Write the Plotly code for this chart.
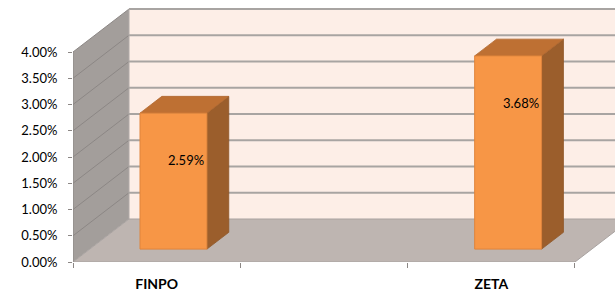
import plotly.graph_objects as go

# ---- data ----
categories = ["FINPO", "", "ZETA"]
values = [2.59, None, 3.68]
y_ticks = [0, 0.5, 1, 1.5, 2, 2.5, 3, 3.5, 4]
y_ticklabels = [f"{v:.2f}%" for v in y_ticks]

# ---- 3D-look geometry (in data units) ----
DX = 0.3347      # depth shift along x (category units)
DY = 0.819       # depth shift along y (percent units)
BAR_F0 = 0.30    # bar front face depth fraction
BAR_D = 0.39     # bar depth fraction
BAR_W = 0.40     # bar width (category units)
NCAT = len(categories)
YMAX = 4

FONT = "Lato"
traces = []

def poly(xs, ys, fill, line_color=None, line_width=0):
    traces.append(go.Scatter(
        x=list(xs) + [xs[0]], y=list(ys) + [ys[0]], mode="lines", fill="toself",
        fillcolor=fill, line=dict(color=line_color or fill, width=line_width),
        hoverinfo="skip", showlegend=False))

def seg(x0, y0, x1, y1, color, width=1):
    traces.append(go.Scatter(
        x=[x0, x1], y=[y0, y1], mode="lines", line=dict(color=color, width=width),
        hoverinfo="skip", showlegend=False))

# back wall
poly([DX, NCAT + 1, NCAT + 1, DX], [DY, DY, YMAX + DY, YMAX + DY], "#FDEEE7")
for v in y_ticks[1:]:
    seg(DX, v + DY, NCAT + 1, v + DY, "#A8A4A2", 1.8)
# side wall
poly([0, DX, DX, 0], [0, DY, YMAX + DY, YMAX], "#A39E9B")
for v in y_ticks[1:]:
    seg(0, v, DX, v + DY, "#8C8785", 1)
seg(DX, DY, DX, YMAX + DY, "#B0ABA8", 1)
# floor
poly([0, NCAT, NCAT + DX, DX], [0, 0, DY, DY], "#BEB5B1", "#A8A2A0", 1)

# bars
for i, v in enumerate(values):
    if v is None:
        continue
    c = i + 0.5
    x0 = c - BAR_W / 2 + BAR_F0 * DX
    x1 = c + BAR_W / 2 + BAR_F0 * DX
    yb = BAR_F0 * DY
    yt = v + BAR_F0 * DY
    ddx = BAR_D * DX
    ddy = BAR_D * DY
    # side
    poly([x1, x1 + ddx, x1 + ddx, x1], [yb, yb + ddy, yt + ddy, yt], "#9B5E2C", "#8E5526", 0.8)
    # top
    poly([x0, x1, x1 + ddx, x0 + ddx], [yt, yt, yt + ddy, yt + ddy], "#BE7033", "#B0672E", 0.8)
    # front
    poly([x0, x1, x1, x0], [yb, yb, yt, yt], "#F79646", "#DF843C", 1)

# front y axis line
seg(0, 0, 0, YMAX, "#8C8785", 1)

fig = go.Figure(traces)

annotations = []
for i, v in enumerate(values):
    if v is None:
        continue
    annotations.append(dict(
        x=i + 0.5 + 0.53 * DX, y=v - 0.65, text=f"{v:.2f}%", showarrow=False,
        font=dict(family=FONT, size=13, color="#000000"), xanchor="center", yanchor="middle"))

fig.update_layout(
    width=615, height=291,
    margin=dict(l=73, r=0, t=0, b=29, autoexpand=False),
    paper_bgcolor="white", plot_bgcolor="white",
    annotations=annotations,
    xaxis=dict(
        range=[0, 542 / 167.33], showgrid=False, zeroline=False, showline=False,
        tickmode="array", tickvals=[i + 0.5 for i in range(NCAT)], ticktext=categories,
        ticks="", ticklabelstandoff=12, automargin=False,
        tickfont=dict(family=FONT, size=14, color="#000000", weight="bold"),
        minor=dict(ticks="outside", tick0=0, dtick=1, ticklen=5, tickcolor="#8C8785", tickwidth=1, showgrid=False),
    ),
    yaxis=dict(
        range=[0, 262 / 52.5], showgrid=False, zeroline=False, showline=False,
        tickmode="array", tickvals=y_ticks, ticktext=y_ticklabels, automargin=False,
        ticks="outside", ticklen=4, tickcolor="#8C8785", tickwidth=1, ticklabelstandoff=8,
        tickfont=dict(family=FONT, size=13, color="#000000"),
    ),
)

fig.write_html("out.html", config={"displayModeBar": False},
               post_script="document.body.style.margin='0';document.body.style.padding='0';")
